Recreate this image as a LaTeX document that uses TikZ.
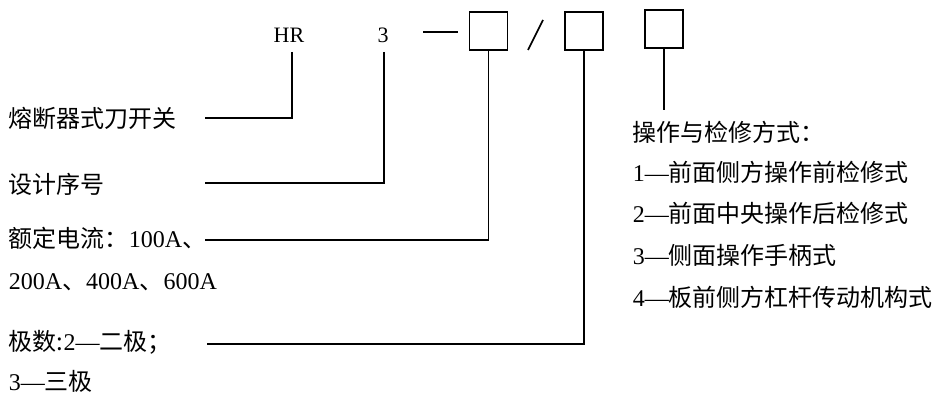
\documentclass[tikz,border=0pt]{standalone}
\usepackage{fontspec}
\setmainfont{Liberation Serif}
\newfontfamily\cjk{Noto Sans CJK SC}
\newcommand\zh[1]{{\cjk #1}}
\begin{document}
\begin{tikzpicture}[x=1pt,y=-1pt,line width=1.7pt,
  lbl/.style={anchor=west,inner sep=0pt,font=\fontsize{24}{28}\selectfont},
  codetext/.style={inner sep=0pt,font=\fontsize{22}{26}\selectfont},
  codebox/.style={draw,minimum width=38pt,minimum height=38pt,inner sep=0pt}]
\useasboundingbox (0,0) rectangle (936,396);
% model code
\node[codetext] (hr) at (289,35) {HR};
\node[codetext] (three) at (383,35) {3};
\coordinate (d1) at (423,32);
\coordinate (d2) at (458,32);
\draw (d1) -- (d2);
\node[codebox] (b1) at (488.5,31) {};
\coordinate (s1) at (528,50);
\coordinate (s2) at (543,20);
\draw (s1) -- (s2);
\node[codebox] (b2) at (584,31) {};
\node[codebox] (b3) at (664,29) {};
% left labels
\node[lbl] (t1) at (8,118) {\zh{熔断器式刀开关}};
\node[lbl] (t2) at (8,184) {\zh{设计序号}};
\node[lbl] (t3) at (8,238) {\zh{额定电流：}100A\zh{、}};
\node[lbl] (t4) at (8,282) {200A\zh{、}400A\zh{、}600A};
\node[lbl] (t5) at (8,342) {\zh{极数:}2—\zh{二极；}};
\node[lbl] (t6) at (8,381) {3—\zh{三极}};
% right labels
\node[lbl] (r0) at (632,132) {\zh{操作与检修方式：}};
\node[lbl] (r1) at (632,172) {1—\zh{前面侧方操作前检修式}};
\node[lbl] (r2) at (632,213) {2—\zh{前面中央操作后检修式}};
\node[lbl] (r3) at (632,255) {3—\zh{侧面操作手柄式}};
\node[lbl] (r4) at (632,297) {4—\zh{板前侧方杠杆传动机构式}};
% connector ends
\coordinate (e1) at (205,118);
\coordinate (e2) at (205,183);
\coordinate (e3) at (205,240);
\coordinate (e4) at (207,344);
\coordinate (e5) at (664,110);
\coordinate (hrtop) at (292,52);
\coordinate (threetop) at (384,52);
\draw (hrtop) |- (e1);
\draw (threetop) |- (e2);
\draw (b1.south) |- (e3);
\draw (b2.south) |- (e4);
\draw (b3.south) -- (e5);
\end{tikzpicture}
\end{document}
